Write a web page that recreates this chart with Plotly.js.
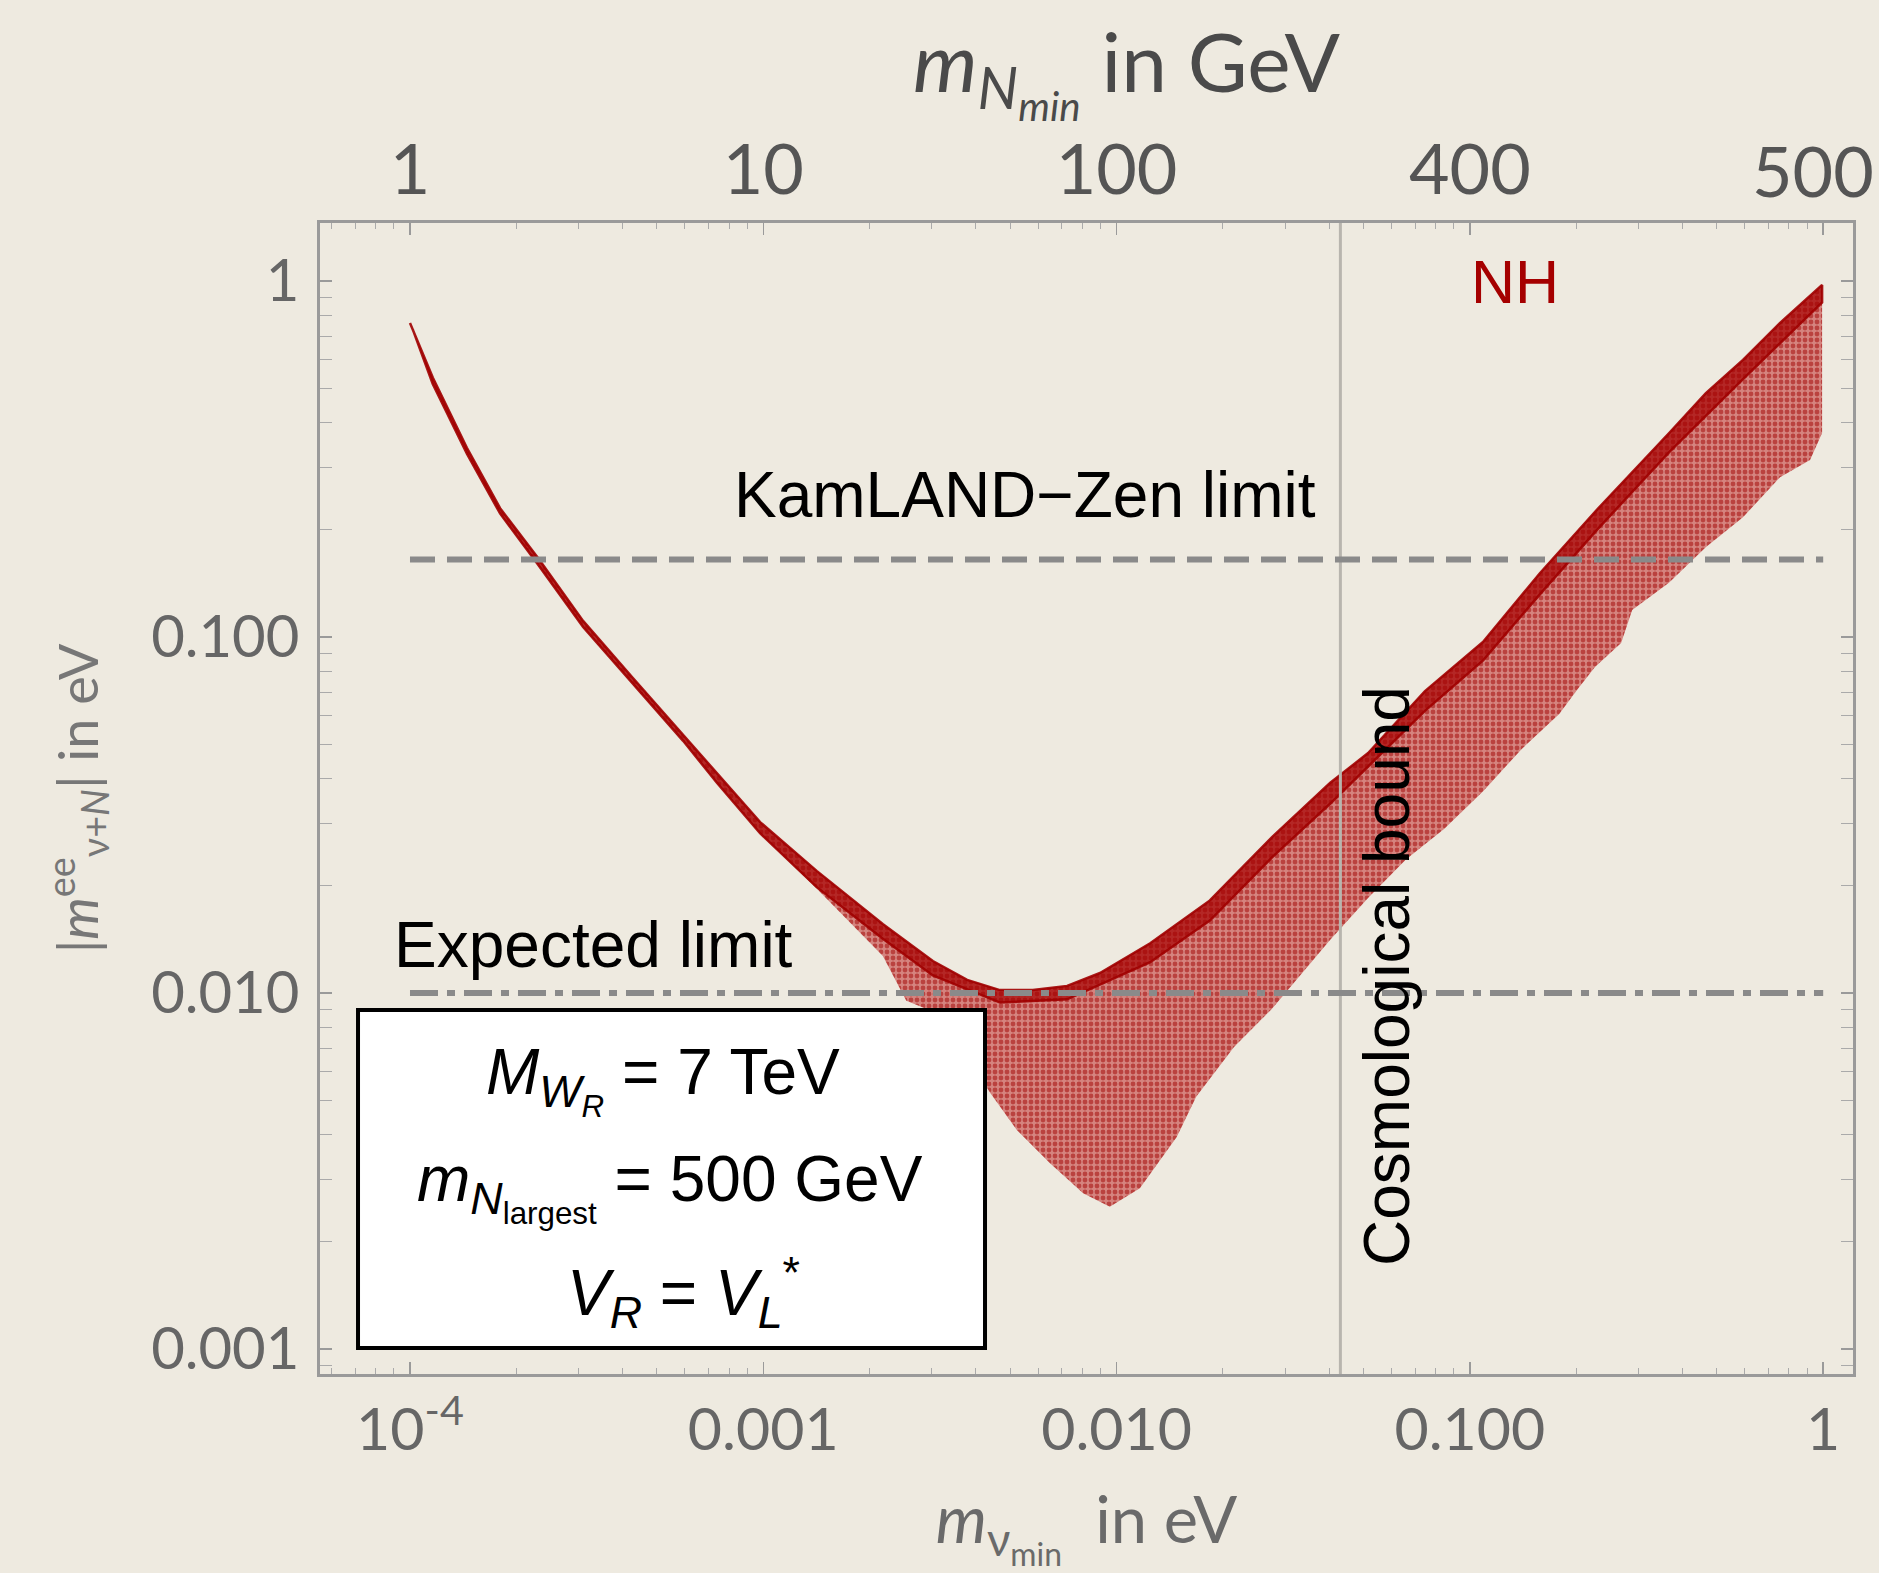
<!DOCTYPE html>
<html>
<head>
<meta charset="utf-8">
<script src="https://cdn.plot.ly/plotly-3.0.1.min.js"></script>
<style>html,body{margin:0;padding:0;background:#EEEAE0;}#chart{width:1879px;height:1573px;}</style>
</head>
<body>
<div id="chart"></div>
<script>
// ---- data ----
// upper edge of the NH band (left to right)
const upperX = [1.00e-4, 1.161e-4, 1.449e-4, 1.799e-4, 2.301e-4, 3.090e-4, 4.276e-4, 5.929e-4, 9.795e-4, 1.419e-3, 2.183e-3, 3.020e-3, 3.776e-3, 4.677e-3, 5.794e-3, 7.244e-3, 8.974e-3, 1.245e-2, 1.837e-2, 2.754e-2, 4.018e-2, 5.152e-2, 7.464e-2, 0.1089, 0.1578, 0.2291, 0.2877, 0.3664, 0.4656, 0.5929, 0.7551, 0.993];
const upperY = [0.762, 0.535, 0.340, 0.230, 0.167, 0.111, 0.0767, 0.0531, 0.0302, 0.0220, 0.0156, 0.0123, 0.01089, 0.01019, 0.01019, 0.01047, 0.01138, 0.0138, 0.0182, 0.0274, 0.0389, 0.0472, 0.0705, 0.0968, 0.151, 0.228, 0.289, 0.374, 0.484, 0.600, 0.762, 0.975];
// lower edge of the NH band (right to left)
const lowerX = [0.993, 0.993, 0.918, 0.755, 0.593, 0.466, 0.366, 0.288, 0.268, 0.226, 0.201, 0.179, 0.140, 0.109, 0.0845, 0.0659, 0.0515, 0.0402, 0.0275, 0.0215, 0.0168, 0.0148, 0.01164, 0.00957, 0.00804, 0.00647, 0.00522, 0.00439, 0.00361, 0.00296, 0.00254, 0.00218, 0.00142, 9.79e-4, 7.40e-4, 5.93e-4, 4.28e-4, 3.09e-4, 2.30e-4, 1.80e-4, 1.45e-4, 1.16e-4, 1.02e-4];
const lowerY = [0.407, 0.374, 0.314, 0.281, 0.217, 0.179, 0.142, 0.119, 0.0962, 0.0824, 0.0710, 0.0608, 0.0484, 0.0369, 0.0289, 0.0237, 0.0185, 0.0141, 0.00902, 0.00705, 0.00511, 0.00394, 0.00283, 0.00251, 0.00274, 0.00333, 0.00412, 0.00524, 0.00714, 0.00895, 0.00951, 0.0127, 0.0196, 0.0281, 0.0389, 0.0511, 0.0738, 0.1067, 0.160, 0.222, 0.327, 0.514, 0.728];
// lower edge of the dense ridge along the top of the band (right to left)
const ridgeX = [0.993, 0.593, 0.366, 0.229, 0.158, 0.109, 0.0746, 0.0402, 0.0275, 0.0184, 0.01245, 0.00724, 0.00468, 0.00302, 0.00218, 0.00142, 9.79e-4, 7.40e-4, 5.93e-4, 4.28e-4, 3.09e-4, 2.30e-4, 1.80e-4, 1.45e-4, 1.16e-4, 1.02e-4];
const ridgeY = [0.87, 0.53, 0.33, 0.20, 0.132, 0.086, 0.062, 0.034, 0.0240, 0.0160, 0.0122, 0.0096, 0.0094, 0.0112, 0.0142, 0.0198, 0.0281, 0.0389, 0.0511, 0.0738, 0.1067, 0.160, 0.222, 0.327, 0.514, 0.728];

// reference lines
const kamlandLimit = 0.165;
const expectedLimit = 0.01;
const limitSpan = [1e-4, 1];
const cosmoBound = 0.043;

// axis ticks
const xTickVals = [1e-4, 1e-3, 1e-2, 1e-1, 1];
const xTickText = ['10<sup>-4</sup>', '0.001', '0.010', '0.100', '1'];
const topTickText = ['1', '10', '100', '400', '500'];
const yTickVals = [1e-3, 1e-2, 1e-1, 1];
const yTickText = ['0.001', '0.010', '0.100', '1'];

// ---- build ----
const RED = '#A00000';
const bandTrace = {
  x: upperX.concat(lowerX), y: upperY.concat(lowerY),
  type: 'scatter', mode: 'lines', fill: 'toself',
  line: {width: 0, color: RED},
  fillcolor: 'rgba(185,20,20,0.48)',
  fillpattern: {shape: '.', fgcolor: RED, size: 6, solidity: 0.5, fillmode: 'overlay'},
  hoverinfo: 'skip', showlegend: false
};
const ridgeTrace = {
  x: upperX.concat(ridgeX), y: upperY.concat(ridgeY),
  type: 'scatter', mode: 'lines', fill: 'toself',
  line: {width: 2.5, color: 'rgba(160,0,0,0.9)'},
  fillcolor: 'rgba(165,0,0,0.7)',
  hoverinfo: 'skip', showlegend: false
};
const kamTrace = {x: limitSpan, y: [kamlandLimit, kamlandLimit], type: 'scatter', mode: 'lines',
  line: {color: '#8a8a8a', width: 6, dash: '25px,12px'}, hoverinfo: 'skip', showlegend: false};
const expTrace = {x: limitSpan, y: [expectedLimit, expectedLimit], type: 'scatter', mode: 'lines',
  line: {color: '#8a8a8a', width: 6, dash: '28px,9px,8px,9px'}, hoverinfo: 'skip', showlegend: false};
const cosmoTrace = {x: [cosmoBound, cosmoBound], y: [1e-4, 10], type: 'scatter', mode: 'lines',
  line: {color: '#b8b5ae', width: 3}, hoverinfo: 'skip', showlegend: false};
const topDummy = {x: limitSpan, y: [expectedLimit, expectedLimit], xaxis: 'x2', type: 'scatter', mode: 'lines',
  line: {width: 0}, opacity: 0, hoverinfo: 'skip', showlegend: false};

const XR = [-4.2547, 0.0844];
const YR = [-3.0702, 0.1629];
const FR = '#9a9a9a';
const TXT = 'Liberation Sans, Arial, sans-serif';
const TICKF = 'Lato, Open Sans, sans-serif';
// the last top label sits against the page edge, so it is drawn as its own text, nudged inward
const topAxisText = topTickText.slice(0, -1).concat(['']);
const lastTopLabel = topTickText[topTickText.length - 1];

const layout = {
  width: 1879, height: 1573,
  paper_bgcolor: '#EEEAE0', plot_bgcolor: '#EEEAE0',
  margin: {l: 320, r: 26, t: 223, b: 199, pad: 0},
  showlegend: false,
  xaxis: {
    type: 'log', range: XR, autorange: false,
    showline: true, linecolor: FR, linewidth: 3, mirror: 'allticks',
    ticks: 'inside', ticklen: 12, tickwidth: 1.5, tickcolor: FR,
    minor: {ticks: 'inside', ticklen: 6, tickwidth: 1, tickcolor: '#aaaaaa', dtick: 'D1', showgrid: false},
    tickvals: xTickVals, ticktext: xTickText,
    tickfont: {family: TICKF, size: 59, color: '#666666'},
    ticklabelstandoff: 2,
    showgrid: false, zeroline: false,
    title: {text: '<i>m</i><sub>ν<sub>min</sub></sub>  in eV', font: {family: TICKF, size: 65, color: '#6a6a6a'}, standoff: 48}
  },
  xaxis2: {
    type: 'log', range: XR, autorange: false, overlaying: 'x', side: 'top', anchor: 'y',
    showline: false, ticks: '', showgrid: false, zeroline: false,
    tickvals: xTickVals, ticktext: topAxisText,
    tickfont: {family: TICKF, size: 70, color: '#555555'},
    ticklabelstandoff: 14
  },
  yaxis: {
    type: 'log', range: YR, autorange: false,
    showline: true, linecolor: FR, linewidth: 3, mirror: 'allticks',
    ticks: 'inside', ticklen: 12, tickwidth: 1.5, tickcolor: FR,
    minor: {ticks: 'inside', ticklen: 6, tickwidth: 1, tickcolor: '#aaaaaa', dtick: 'D1', showgrid: false},
    tickvals: yTickVals, ticktext: yTickText,
    tickfont: {family: TICKF, size: 58, color: '#666666'},
    ticklabelstandoff: 6,
    showgrid: false, zeroline: false,
    title: {text: '|<i>m</i><sup>ee</sup><sub>ν+<i>N</i></sub>| in eV', font: {family: TICKF, size: 54, color: '#777777'}, standoff: 36}
  },
  shapes: [
    {type: 'rect', xref: 'paper', yref: 'paper', x0: 0.0248, x1: 0.4338, y0: 0.0226, y1: 0.3162,
     fillcolor: '#ffffff', line: {color: '#000000', width: 4}, layer: 'above'}
  ],
  annotations: [
    {xref: 'paper', yref: 'paper', x: 0.9739, y: 1.046, text: lastTopLabel, showarrow: false,
     font: {family: TICKF, size: 70, color: '#555555'}, xanchor: 'center', yanchor: 'middle'},
    {xref: 'paper', yref: 'paper', x: 0.5258, y: 1.1329, text: '<i>m</i><sub><i>N</i><sub><i>min</i></sub></sub> in GeV', showarrow: false,
     font: {family: TICKF, size: 82, color: '#4a4a4a'}, xanchor: 'center', yanchor: 'middle'},
    {xref: 'paper', yref: 'paper', x: 0.4599, y: 0.7637, text: 'KamLAND−Zen limit', showarrow: false,
     font: {family: TXT, size: 64, color: '#000000'}, xanchor: 'center', yanchor: 'middle'},
    {xref: 'paper', yref: 'paper', x: 0.1787, y: 0.3727, text: 'Expected limit', showarrow: false,
     font: {family: TXT, size: 64, color: '#000000'}, xanchor: 'center', yanchor: 'middle'},
    {xref: 'paper', yref: 'paper', x: 0.7795, y: 0.9487, text: 'NH', showarrow: false,
     font: {family: TXT, size: 61, color: '#A50000'}, xanchor: 'center', yanchor: 'middle'},
    {xref: 'paper', yref: 'paper', x: 0.6960, y: 0.3458, text: 'Cosmological bound', showarrow: false, textangle: -90,
     font: {family: TXT, size: 64, color: '#000000'}, xanchor: 'center', yanchor: 'middle'},
    {xref: 'paper', yref: 'paper', x: 0.2237, y: 0.2555, text: '<i>M</i><sub><i>W</i><sub><i>R</i></sub></sub> = 7 TeV', showarrow: false,
     font: {family: TXT, size: 64, color: '#000000'}, xanchor: 'center', yanchor: 'middle'},
    {xref: 'paper', yref: 'paper', x: 0.2283, y: 0.1625, text: '<i>m</i><sub><i>N</i><sub>largest</sub></sub> = 500 GeV', showarrow: false,
     font: {family: TXT, size: 64, color: '#000000'}, xanchor: 'center', yanchor: 'middle'},
    {xref: 'paper', yref: 'paper', x: 0.2368, y: 0.0712, text: '<i>V</i><sub><i>R</i></sub> = <i>V</i><sub><i>L</i></sub><sup>*</sup>', showarrow: false,
     font: {family: TXT, size: 64, color: '#000000'}, xanchor: 'center', yanchor: 'middle'}
  ]
};

Plotly.newPlot('chart', [bandTrace, ridgeTrace, cosmoTrace, kamTrace, expTrace, topDummy], layout, {displayModeBar: false, staticPlot: true});
</script>
</body>
</html>
